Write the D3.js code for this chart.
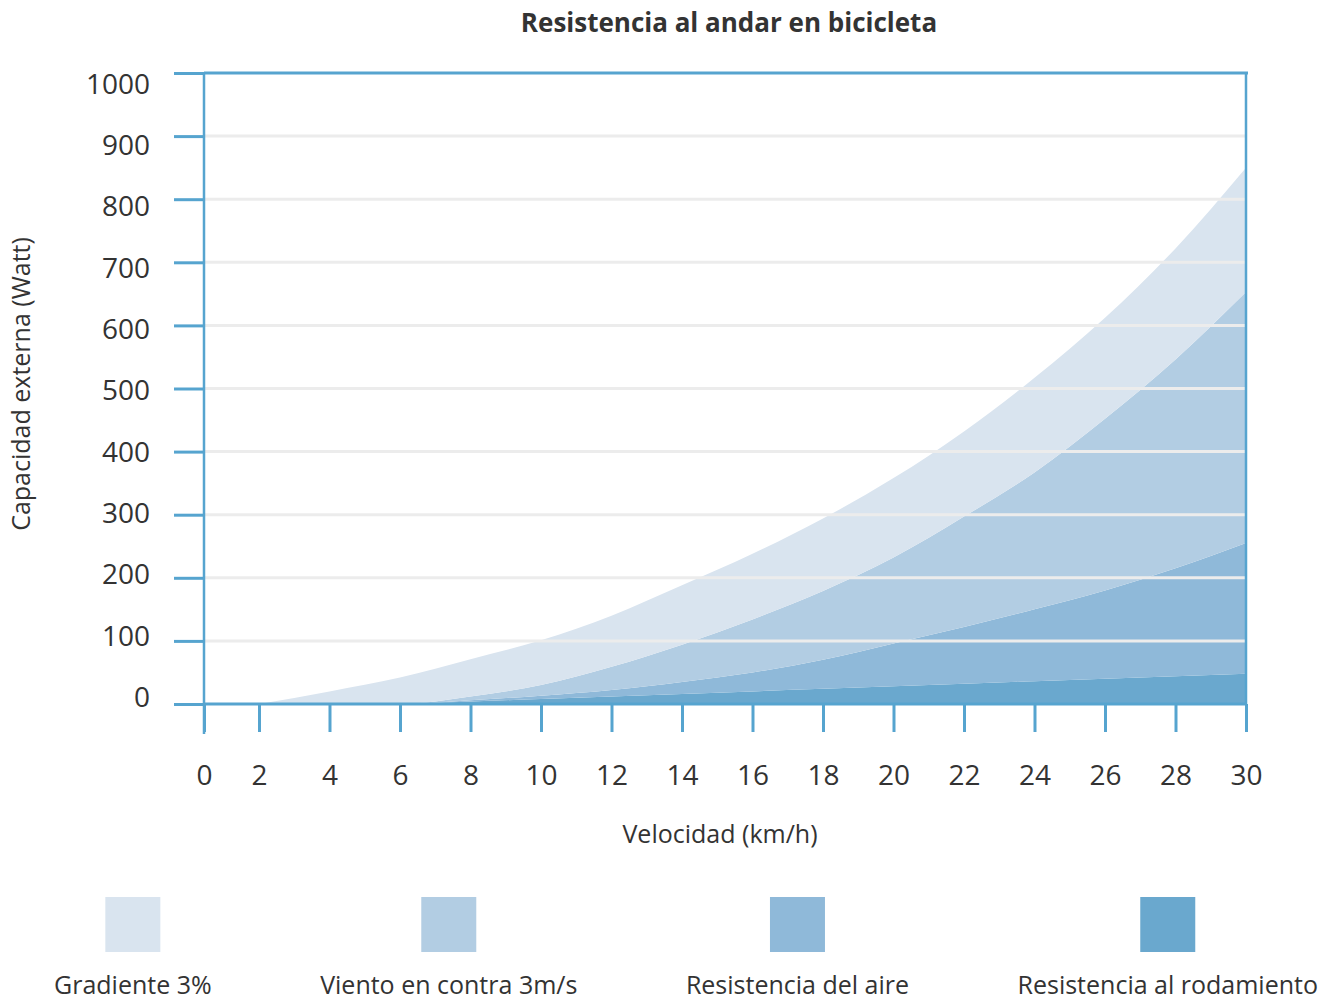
<!DOCTYPE html>
<html>
<head>
<meta charset="utf-8">
<script src="https://cdn.jsdelivr.net/npm/d3@7"></script>
<style>
  body { margin: 0; background: #fff; }
  text { font-family: "Open Sans", sans-serif; fill: #333; font-weight: 500; }
</style>
</head>
<body>
<svg id="chart" width="1320" height="999"></svg>
<script>
// data (W per component, stacked bottom to top)
var speeds     = [2, 4, 6, 8, 10, 12, 14, 16, 18, 20, 22, 24, 26, 28, 30];
var rodamiento = [0, 0, 0, 4, 8, 12, 16, 20, 24, 28, 32, 36, 40, 44, 48];
var aire       = [0, 0, 0, 2, 5, 10, 19, 30, 46, 68, 90, 114, 140, 171, 207];
var viento     = [0, 0, 0, 6, 17, 37, 59, 84, 109, 136, 175, 217, 272, 331, 398];
var gradiente  = [0, 20, 42, 59, 71, 81, 94, 104, 115, 126, 135, 150, 160, 176, 197];

var keys   = ["rodamiento", "aire", "viento", "gradiente"];
var labels = {
    gradiente: "Gradiente 3%",
    viento: "Viento en contra 3m/s",
    aire: "Resistencia del aire",
    rodamiento: "Resistencia al rodamiento"
};
var colors = {
    gradiente: "#d9e4ef",
    viento: "#b2cde3",
    aire: "#8fb9d9",
    rodamiento: "#6aa8ce"
};

var yTicks = [0, 100, 200, 300, 400, 500, 600, 700, 800, 900, 1000];
var xTicks = [2, 4, 6, 8, 10, 12, 14, 16, 18, 20, 22, 24, 26, 28, 30];

(function() {

    var axisColor = "#56a4cf";

    var rows = speeds.map(function(v, i) {
        return { v: v, rodamiento: rodamiento[i], aire: aire[i], viento: viento[i], gradiente: gradiente[i] };
    });

    var svg = d3.select("#chart");

    var plotLeft = 204, plotRight = 1246, plotTop = 73, plotBottom = 704;
    var xMin = 0.44; // the axis starts a little after zero in the original

    var x = d3.scaleLinear().domain([xMin, 30]).range([plotLeft, plotRight]);
    var y = d3.scaleLinear().domain([0, 1000]).range([plotBottom, plotTop]);
    // tick labels in the original sit on a slightly tighter scale than the gridlines
    var yLab = d3.scaleLinear().domain([0, 1000]).range([697, 84]);

    var layers = d3.stack().keys(keys)(rows);

    var area = d3.area()
        .x(function(d) { return x(d.data.v); })
        .y0(function(d) { return y(d[0]); })
        .y1(function(d) { return y(d[1]); })
        .curve(d3.curveMonotoneX);

    // title
    svg.append("text")
        .attr("x", 729)
        .attr("y", 32)
        .attr("text-anchor", "middle")
        .style("font-size", "26px")
        .style("font-weight", "bold")
        .text("Resistencia al andar en bicicleta");

    // areas
    svg.append("g")
        .selectAll("path")
        .data(layers)
        .enter()
        .append("path")
        .attr("d", area)
        .attr("fill", function(d) { return colors[d.key]; });

    // gridlines on top of the areas
    svg.append("g")
        .selectAll("line")
        .data(yTicks.filter(function(d) { return d > 0 && d < 1000; }))
        .enter()
        .append("line")
        .attr("x1", plotLeft)
        .attr("x2", plotRight)
        .attr("y1", function(d) { return y(d); })
        .attr("y2", function(d) { return y(d); })
        .attr("stroke", "#ececec")
        .attr("stroke-width", 3);

    // y axis
    var yAxis = d3.axisLeft(y).tickValues(yTicks).tickSize(30).tickFormat("");
    var gy = svg.append("g")
        .attr("transform", "translate(" + plotLeft + ",0)")
        .call(yAxis);
    gy.select(".domain").remove();
    gy.selectAll(".tick line").attr("stroke", axisColor).attr("stroke-width", 3);

    svg.append("g")
        .selectAll("text")
        .data(yTicks)
        .enter()
        .append("text")
        .attr("x", 150)
        .attr("y", function(d) { return yLab(d); })
        .attr("dy", "0.35em")
        .attr("text-anchor", "end")
        .style("font-size", "28px")
        .text(function(d) { return d; });

    // x axis
    var xAxis = d3.axisBottom(x)
        .tickValues([xMin].concat(xTicks))
        .tickSize(28)
        .tickPadding(33)
        .tickFormat(function(d) { return d === xMin ? "0" : d; });
    var gx = svg.append("g")
        .attr("transform", "translate(0," + plotBottom + ")")
        .call(xAxis);
    gx.select(".domain").remove();
    gx.selectAll(".tick line").attr("stroke", axisColor).attr("stroke-width", 3);
    gx.selectAll(".tick text")
        .style("font-family", "'Open Sans', sans-serif")
        .style("font-size", "28px")
        .style("font-weight", "500")
        .attr("fill", "#333");

    // frame
    var frame = svg.append("g").attr("stroke", axisColor).attr("fill", "none");
    frame.append("line").attr("x1", plotLeft).attr("x2", plotLeft).attr("y1", plotTop - 1).attr("y2", plotBottom + 30).attr("stroke-width", 2.5);
    frame.append("line").attr("x1", plotLeft).attr("x2", plotRight + 1).attr("y1", plotBottom).attr("y2", plotBottom).attr("stroke-width", 3);
    frame.append("line").attr("x1", plotLeft).attr("x2", plotRight + 2).attr("y1", plotTop).attr("y2", plotTop).attr("stroke-width", 3);
    frame.append("line").attr("x1", plotRight).attr("x2", plotRight).attr("y1", plotTop).attr("y2", plotBottom).attr("stroke-width", 2.5);

    // axis titles
    svg.append("text")
        .attr("x", 720)
        .attr("y", 843)
        .attr("text-anchor", "middle")
        .style("font-size", "25px")
        .text("Velocidad (km/h)");

    svg.append("text")
        .attr("transform", "translate(30,384) rotate(-90)")
        .attr("text-anchor", "middle")
        .style("font-size", "25px")
        .text("Capacidad externa (Watt)");

    // legend: items spread between 54 and 1318, each label centred under its swatch
    var legendKeys = keys.slice().reverse();
    var items = svg.append("g")
        .selectAll("g")
        .data(legendKeys)
        .enter()
        .append("g");

    items.append("text")
        .attr("y", 994)
        .attr("text-anchor", "middle")
        .style("font-size", "25px")
        .text(function(d) { return labels[d]; });

    var widths = [];
    items.select("text").each(function() { widths.push(this.getComputedTextLength()); });
    var gap = (1318 - 54 - d3.sum(widths)) / (legendKeys.length - 1);
    var cursor = 54;
    items.each(function(d, i) {
        var cx = cursor + widths[i] / 2;
        cursor += widths[i] + gap;
        var g = d3.select(this);
        g.select("text").attr("x", cx);
        g.append("rect")
            .attr("x", cx - 27.5)
            .attr("y", 897)
            .attr("width", 55)
            .attr("height", 55)
            .attr("fill", colors[d]);
    });

})();
</script>
</body>
</html>
